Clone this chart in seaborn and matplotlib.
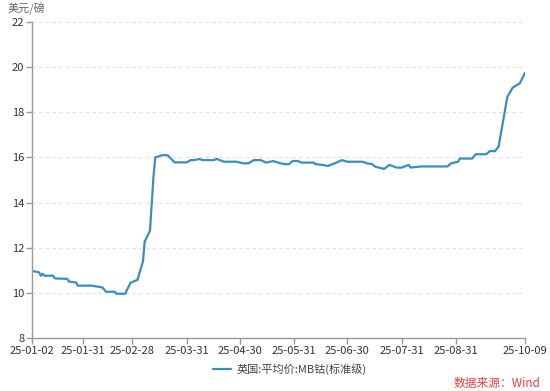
import matplotlib
matplotlib.use("Agg")
import matplotlib.pyplot as plt
import matplotlib.dates as mdates
import pandas as pd
import seaborn as sns

dates = [
    "2025-01-02", "2025-01-06", "2025-01-07", "2025-01-08", "2025-01-09", "2025-01-14",
    "2025-01-15", "2025-01-22", "2025-01-23", "2025-01-27", "2025-01-28", "2025-02-05",
    "2025-02-11", "2025-02-13", "2025-02-18", "2025-02-19", "2025-02-24", "2025-02-25",
    "2025-02-27", "2025-03-03", "2025-03-04", "2025-03-06", "2025-03-07", "2025-03-10",
    "2025-03-12", "2025-03-13", "2025-03-17", "2025-03-20", "2025-03-24", "2025-03-31",
    "2025-04-02", "2025-04-04", "2025-04-07", "2025-04-09", "2025-04-15", "2025-04-17",
    "2025-04-21", "2025-04-28", "2025-05-02", "2025-05-05", "2025-05-08", "2025-05-12",
    "2025-05-15", "2025-05-19", "2025-05-23", "2025-05-26", "2025-05-28", "2025-05-30",
    "2025-06-02", "2025-06-04", "2025-06-11", "2025-06-12", "2025-06-16", "2025-06-19",
    "2025-06-23", "2025-06-27", "2025-06-30", "2025-07-09", "2025-07-11", "2025-07-14",
    "2025-07-16", "2025-07-18", "2025-07-21", "2025-07-24", "2025-07-28", "2025-07-31",
    "2025-08-04", "2025-08-05", "2025-08-11", "2025-08-26", "2025-08-28", "2025-09-01",
    "2025-09-02", "2025-09-09", "2025-09-11", "2025-09-17", "2025-09-19", "2025-09-22",
    "2025-09-24", "2025-09-29", "2025-10-02", "2025-10-06", "2025-10-09",
]
prices = [
    10.97, 10.91, 10.76, 10.85, 10.76, 10.76,
    10.64, 10.62, 10.50, 10.46, 10.32, 10.32,
    10.24, 10.05, 10.05, 9.96, 9.96, 10.14,
    10.45, 10.58, 10.87, 11.38, 12.27, 12.75,
    15.15, 16.00, 16.10, 16.10, 15.78, 15.78,
    15.88, 15.88, 15.93, 15.88, 15.88, 15.93,
    15.81, 15.81, 15.74, 15.74, 15.88, 15.88,
    15.77, 15.84, 15.74, 15.70, 15.70, 15.84,
    15.84, 15.77, 15.77, 15.70, 15.67, 15.62,
    15.74, 15.88, 15.81, 15.81, 15.74, 15.71,
    15.59, 15.55, 15.49, 15.67, 15.55, 15.55,
    15.67, 15.55, 15.60, 15.60, 15.74, 15.81,
    15.95, 15.95, 16.14, 16.14, 16.28, 16.28,
    16.48, 18.69, 19.09, 19.28, 19.75,
]
tick_dates = ["2025-01-02", "2025-01-31", "2025-02-28", "2025-03-31", "2025-04-30",
              "2025-05-31", "2025-06-30", "2025-07-31", "2025-08-31", "2025-10-09"]
y_ticks = [8, 10, 12, 14, 16, 18, 20, 22]
series_name = "英国:平均价:MB钴(标准级)"
unit_label = "美元/磅"
source_text = "数据来源：Wind"

sns.set_theme(style="white")
plt.rcParams["font.family"] = ["Noto Sans CJK SC", "DejaVu Sans"]

df = pd.DataFrame({"date": pd.to_datetime(dates), "price": prices, "series": series_name})

fig = plt.figure(figsize=(5.5, 3.91), dpi=100)
ax = fig.add_axes([32 / 550, 1 - 338 / 391, (525 - 32) / 550, (338 - 22) / 391])

line_color = "#3a8ebf"
sns.lineplot(data=df, x="date", y="price", hue="series", palette=[line_color],
             linewidth=1.6, ax=ax, legend=True)

ax.set_xlim(pd.Timestamp(tick_dates[0]), pd.Timestamp(tick_dates[-1]))
ax.set_ylim(y_ticks[0], y_ticks[-1])
ax.set_xticks(pd.to_datetime(tick_dates))
ax.xaxis.set_major_formatter(mdates.DateFormatter("%y-%m-%d"))
ax.set_yticks(y_ticks)
ax.set_xlabel("")
ax.set_ylabel("")

for s in ["top", "right"]:
    ax.spines[s].set_visible(False)
for s in ["left", "bottom"]:
    ax.spines[s].set_color("#999999")
    ax.spines[s].set_linewidth(1.0)
ax.tick_params(axis="both", which="major", length=4, width=1, color="#999999",
               labelsize=8, labelcolor="#333333", pad=1.5, direction="out")
ax.tick_params(axis="x", bottom=True)
ax.tick_params(axis="y", left=True)
ax.yaxis.grid(True, linestyle=(0, (3, 3)), color="#e0e0e0", linewidth=0.8)
ax.xaxis.grid(False)

fig.text(8 / 550, 1 - 9 / 391, unit_label, fontsize=8, color="#666666", va="center", ha="left")

handles, labels = ax.get_legend_handles_labels()
ax.legend(handles, labels, loc="center", bbox_to_anchor=(0.5, -0.13 - 0.0), frameon=False,
          fontsize=8, handlelength=1.6, handletextpad=0.5, labelcolor="#444444")
leg = ax.get_legend()
leg.set_bbox_to_anchor((290 / 550, 1 - 369 / 391), transform=fig.transFigure)

fig.text(540 / 550, 1 - 383 / 391, source_text, fontsize=8.5, color="#e8423a",
         ha="right", va="center")

fig.savefig("out.png", dpi=100, facecolor="white")
